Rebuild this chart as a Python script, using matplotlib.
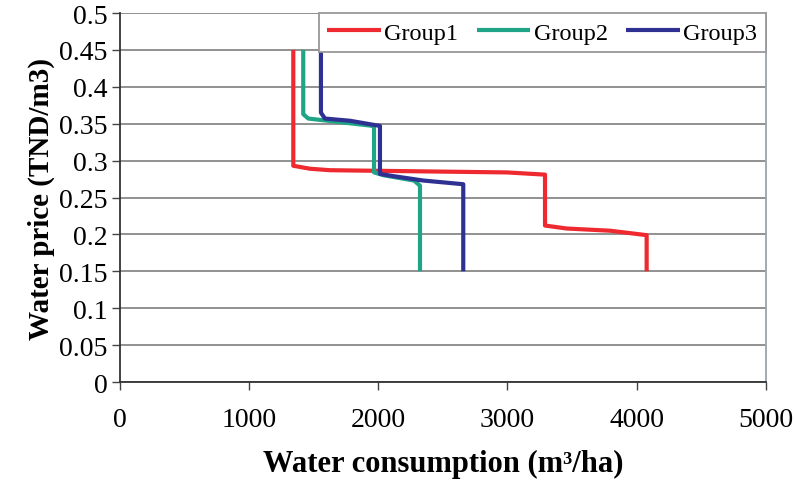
import matplotlib
matplotlib.use("Agg")
import matplotlib.pyplot as plt

# values
g1_x = [1342, 1342, 1471, 1626, 2994, 3291, 3291, 3459, 3794, 4078, 4078]
g1_y = [0.45, 0.293, 0.289, 0.287, 0.284, 0.281, 0.212, 0.208, 0.205, 0.199, 0.15]

g2_x = [1419, 1419, 1458, 1961, 1967, 1967, 2045, 2277, 2323, 2323]
g2_y = [0.45, 0.363, 0.357, 0.347, 0.345, 0.284, 0.280, 0.273, 0.266, 0.15]

g3_x = [1556, 1556, 1587, 1781, 2013, 2013, 2116, 2349, 2658, 2658]
g3_y = [0.45, 0.365, 0.357, 0.354, 0.347, 0.282, 0.279, 0.273, 0.268, 0.15]

x_ticks = [0, 1000, 2000, 3000, 4000, 5000]
y_ticks = [0, 0.05, 0.1, 0.15, 0.2, 0.25, 0.3, 0.35, 0.4, 0.45, 0.5]

plt.rcParams['font.family'] = ['Liberation Serif', 'DejaVu Serif']

fig = plt.figure(figsize=(7.94, 4.85), dpi=100)
ax = fig.add_axes([0.1511, 0.2103, 0.8133, 0.7608])

ax.plot(g1_x, g1_y, color='#ee2a30', lw=3, label='Group1', solid_joinstyle='round', solid_capstyle='butt', zorder=3)
ax.plot(g2_x, g2_y, color='#1fa585', lw=3, label='Group2', solid_joinstyle='round', solid_capstyle='butt', zorder=3)
ax.plot(g3_x, g3_y, color='#2e3192', lw=3, label='Group3', solid_joinstyle='round', solid_capstyle='butt', zorder=3)

ax.set_xlim(0, 5000)
ax.set_ylim(0, 0.5)
ax.set_xticks(x_ticks)
ax.set_yticks(y_ticks)
ax.set_yticklabels([('%g' % v) for v in y_ticks])
ax.tick_params(axis='both', labelsize=20, direction='out', length=6, width=1, color='#444444')
ax.tick_params(axis='x', pad=12)
ax.tick_params(axis='y', pad=3)

ax.yaxis.grid(True, color='#888888', lw=1.3, zorder=1)
ax.set_axisbelow(True)

for s in ['left', 'bottom']:
    ax.spines[s].set_color('#333333')
    ax.spines[s].set_linewidth(1.3)
ax.spines['top'].set_visible(False)
ax.spines['right'].set_color('#9aa4b0')
ax.spines['right'].set_linewidth(1.3)

ax.set_xlabel('Water consumption (m³/ha)', fontsize=22, fontweight='bold', labelpad=12)
ax.set_ylabel('Water price (TND/m3)', fontsize=21, fontweight='bold', labelpad=3)

leg = ax.legend(loc='upper right', ncol=3, fontsize=17.5, frameon=True, fancybox=False,
                bbox_to_anchor=(1.0, 1.0), borderaxespad=0, handlelength=2.2,
                handletextpad=0.15, columnspacing=0.75, borderpad=0.35)
leg.get_frame().set_edgecolor('#999999')
leg.get_frame().set_linewidth(1.3)
leg.get_frame().set_alpha(1)

fig.savefig('out.png', dpi=100)
